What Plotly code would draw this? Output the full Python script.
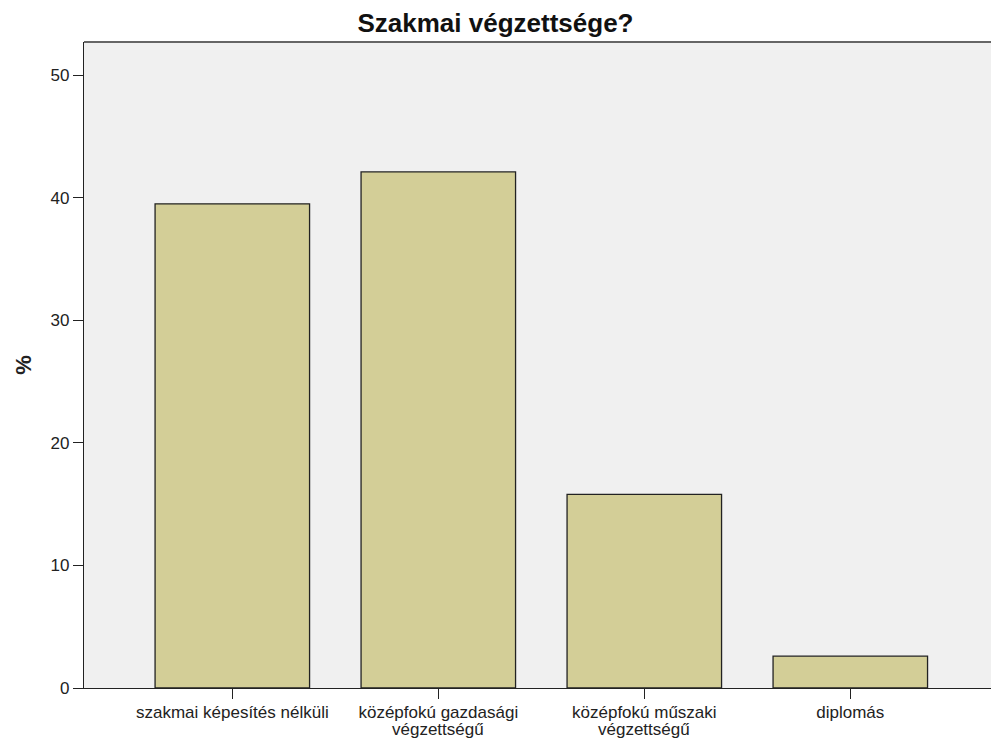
import plotly.graph_objects as go

categories_line1 = ["szakmai képesítés nélküli", "középfokú gazdasági",
                    "középfokú műszaki", "diplomás"]
categories_line2 = ["", "végzettségű", "végzettségű", ""]
values = [39.5, 42.1, 15.8, 2.6]
y_ticks = [0, 10, 20, 30, 40, 50]

x_idx = list(range(len(categories_line1)))

fig = go.Figure()
fig.add_trace(go.Bar(
    x=x_idx, y=values,
    marker=dict(color="#D3CE97", line=dict(color="#222222", width=1.3)),
    width=0.75, hoverinfo="skip"))

fig.update_layout(
    width=991, height=740, autosize=False,
    margin=dict(l=84, r=0, t=42, b=52, autoexpand=False),
    paper_bgcolor="white", plot_bgcolor="#F0F0F0",
    font=dict(family="Liberation Sans, Arial, sans-serif", size=17, color="#222222"),
    title=dict(text="<b>Szakmai végzettsége?</b>", x=0.5, xanchor="center",
               y=1 - 23 / 740, yanchor="middle",
               font=dict(size=26, color="#111111")),
    showlegend=False,
    xaxis=dict(range=[-0.72, 3.683], tickmode="array", automargin=False,
               tickvals=x_idx, ticktext=categories_line1,
               ticks="outside", ticklen=10, tickwidth=1.3, tickcolor="#222222",
               ticklabelstandoff=-2,
               showline=True, linecolor="#222222", linewidth=1.3,
               showgrid=False, zeroline=False, tickfont=dict(size=17)),
    yaxis=dict(range=[0, 52.7], tickmode="array", tickvals=y_ticks, automargin=False,
               ticks="outside", ticklen=10, tickwidth=1.3, tickcolor="#222222",
               showline=True, linecolor="#222222", linewidth=1.3,
               showgrid=False, zeroline=False, tickfont=dict(size=17),
               title=dict(text="<b>%</b>", font=dict(size=22), standoff=12)),
)
for xi, txt in zip(x_idx, categories_line2):
    if txt:
        fig.add_annotation(x=xi, xref="x", y=-41 / 646, yref="paper",
                           text=txt, showarrow=False, yanchor="middle",
                           font=dict(size=17, color="#222222"))
fig.add_shape(type="line", xref="paper", yref="paper", x0=0, x1=1, y0=1, y1=1,
              line=dict(color="#666666", width=2))

fig.write_html("out.html", config={"displayModeBar": False},
               post_script="document.body.style.margin='0';")
